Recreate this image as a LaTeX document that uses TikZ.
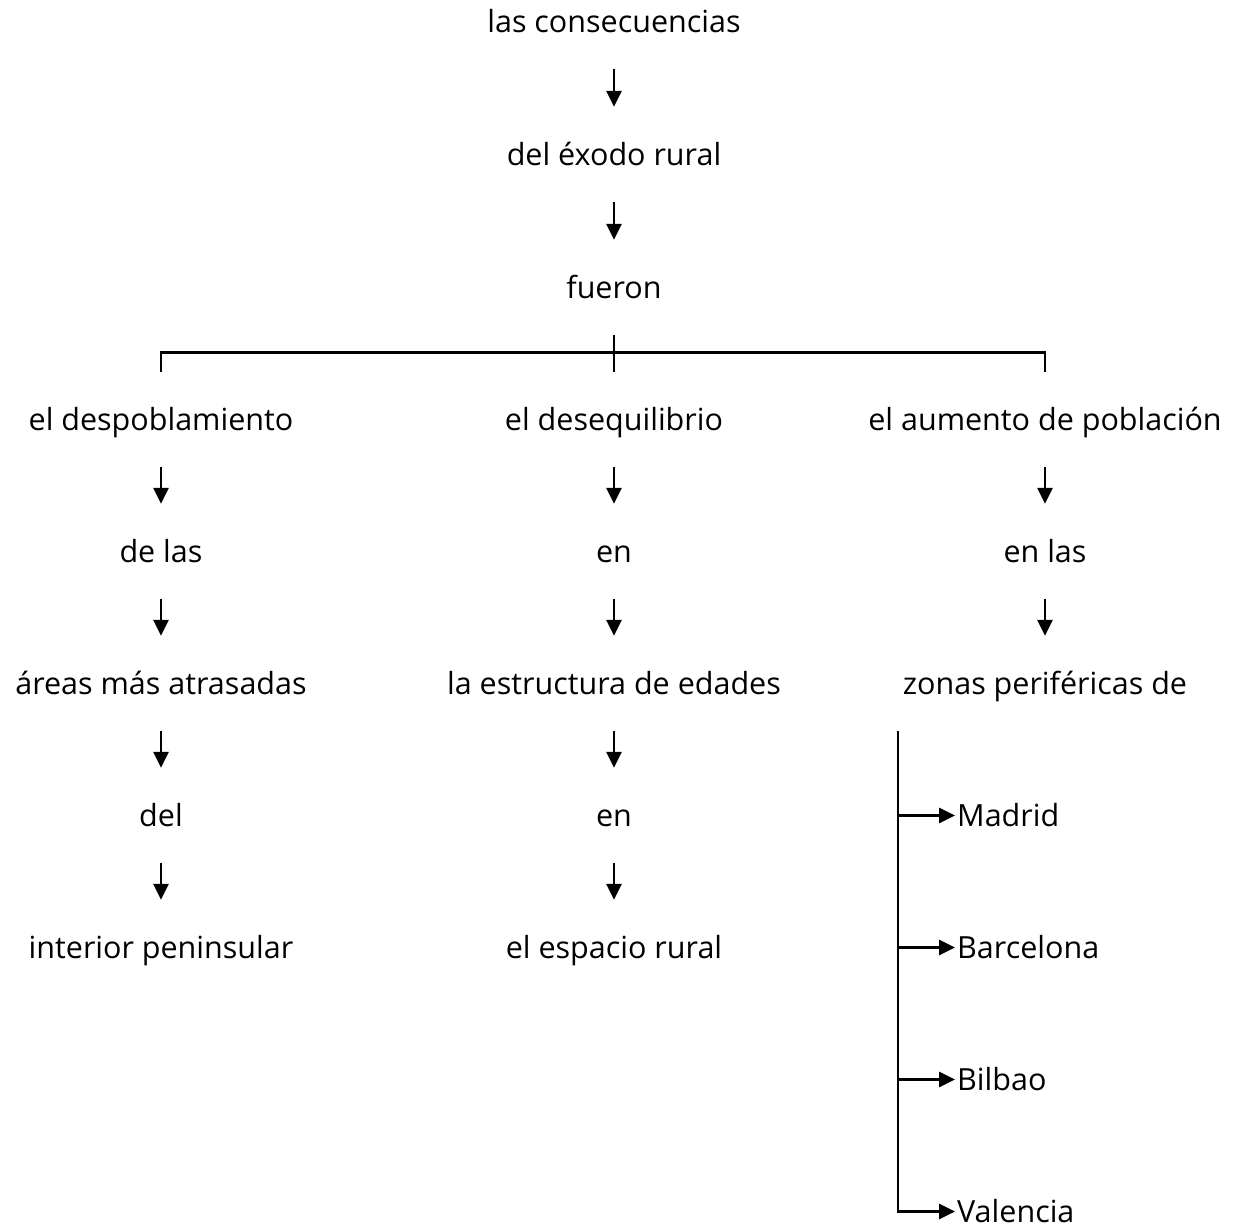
\documentclass[tikz,border=0pt]{standalone}
\usepackage{fontspec}
\setmainfont{Open Sans}
\usetikzlibrary{arrows.meta}
\begin{document}
\begin{tikzpicture}[x=1pt,y=-1pt,
  txt/.style={font=\fontsize{30.5}{32}\selectfont, inner xsep=0pt, inner ysep=29pt,
    text height=29pt, text depth=8pt, anchor=base},
  lst/.style={txt, anchor=base west, inner xsep=2pt},
  conn/.style={line width=2.9pt},
  arr/.style={conn, -{Triangle[length=16pt,width=15pt]}}]
\useasboundingbox (0,0) rectangle (1243,1227);
% central chain
\node[txt] (c1) at (614,32) {las consecuencias};
\node[txt] (c2) at (614,165) {del éxodo rural};
\node[txt] (c3) at (614,298) {fueron};
% left column
\node[txt] (l1) at (161,430) {el despoblamiento};
\node[txt] (l2) at (161,562) {de las};
\node[txt] (l3) at (161,694) {áreas más atrasadas};
\node[txt] (l4) at (161,826) {del};
\node[txt] (l5) at (161,958) {interior peninsular};
% middle column
\node[txt] (m1) at (614,430) {el desequilibrio};
\node[txt] (m2) at (614,562) {en};
\node[txt] (m3) at (614,694) {la estructura de edades};
\node[txt] (m4) at (614,826) {en};
\node[txt] (m5) at (614,958) {el espacio rural};
% right column
\node[txt] (r1) at (1045,430) {el aumento de población};
\node[txt] (r2) at (1045,562) {en las};
\node[txt] (r3) at (1045,694) {zonas periféricas de};
\node[lst] (p1) at (955,826) {Madrid};
\node[lst] (p2) at (955,958) {Barcelona};
\node[lst] (p3) at (955,1090) {Bilbao};
\node[lst] (p4) at (955,1222) {Valencia};
% arrows
\draw[arr] (c1) -- (c2);
\draw[arr] (c2) -- (c3);
\draw[arr] (l1) -- (l2);
\draw[arr] (l2) -- (l3);
\draw[arr] (l3) -- (l4);
\draw[arr] (l4) -- (l5);
\draw[arr] (m1) -- (m2);
\draw[arr] (m2) -- (m3);
\draw[arr] (m3) -- (m4);
\draw[arr] (m4) -- (m5);
\draw[arr] (r1) -- (r2);
\draw[arr] (r2) -- (r3);
% branching bracket
\draw[conn] (c3.south) -- (m1.north);
\draw[conn] (l1.north) -- ++(0,-19) -| (r1.north);
% list trunk
\coordinate (v) at ([xshift=-57pt]p1.west |- r3.south);
\draw[arr] (v) |- (p4.west);
\draw[arr] (v |- p1.west) -- (p1.west);
\draw[arr] (v |- p2.west) -- (p2.west);
\draw[arr] (v |- p3.west) -- (p3.west);
\end{tikzpicture}
\end{document}
